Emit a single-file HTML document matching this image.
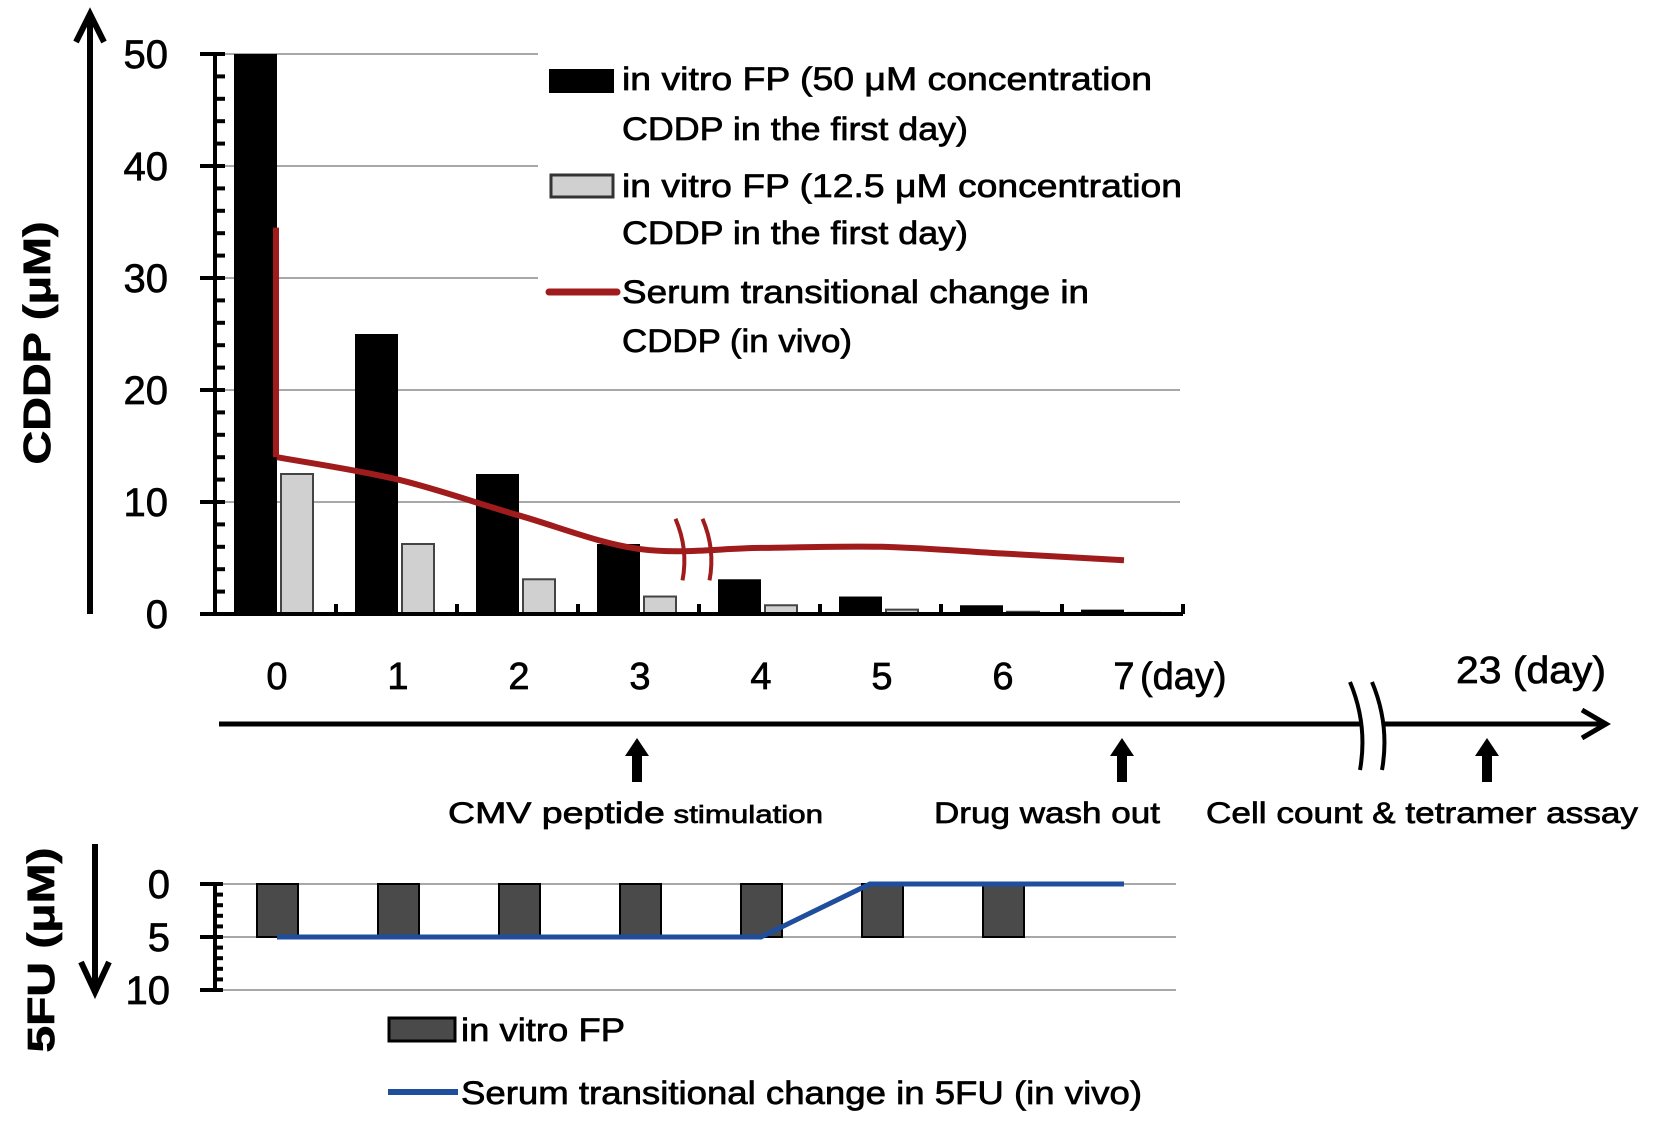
<!DOCTYPE html>
<html><head><meta charset="utf-8"><style>
html,body{margin:0;padding:0;background:#fff;}
svg{display:block;font-family:"Liberation Sans",sans-serif;}
text{stroke:#000;stroke-width:0.7px;}
</style></head><body>
<svg id="chart" width="1654" height="1129" viewBox="0 0 1654 1129" xmlns="http://www.w3.org/2000/svg">
<g id="topgrp"></g>
<g id="botgrp"></g>
<g id="legend">
  <rect x="538" y="40" width="652" height="318" fill="#fff"/>
  <rect x="549" y="69" width="65" height="24" fill="#000"/>
  <text x="622" y="90" font-size="32" textLength="530" lengthAdjust="spacingAndGlyphs">in vitro FP (50 μM concentration</text>
  <text x="622" y="140" font-size="32" textLength="346" lengthAdjust="spacingAndGlyphs">CDDP in the first day)</text>
  <rect x="551" y="175" width="62" height="22" fill="#d0d0d0" stroke="#333" stroke-width="3"/>
  <text x="622" y="197" font-size="32" textLength="560" lengthAdjust="spacingAndGlyphs">in vitro FP (12.5 μM concentration</text>
  <text x="622" y="244" font-size="32" textLength="346" lengthAdjust="spacingAndGlyphs">CDDP in the first day)</text>
  <line x1="549" y1="292" x2="617" y2="292" stroke="#a01c1c" stroke-width="7" stroke-linecap="round"/>
  <text x="622" y="303" font-size="32" textLength="467" lengthAdjust="spacingAndGlyphs">Serum transitional change in</text>
  <text x="622" y="352" font-size="32" textLength="230" lengthAdjust="spacingAndGlyphs">CDDP (in vivo)</text>
</g>
</svg>
<script>
const days = [0,1,2,3,4,5,6,7];
const black50 = [50,25,12.5,6.25,3.1,1.56,0.78,0.39];
const gray125 = [12.5,6.25,3.1,1.56,0.78,0.39,0.2,0.1];
const redDays = [0,1,2,3,4,5,6,7];
const redVals = [14,12,8.8,5.8,5.9,6.0,5.4,4.8];
const redPeak = 34.5;
const yTicks = [0,10,20,30,40,50];
const fuDays = [0,1,2,3,4,5,6];
const fuBars = [5,5,5,5,5,5,5];
const blueDays = [0,1,2,3,4,4.9,6,7];
const blueVals = [5,5,5,5,5,0,0,0];
const fuTicks = [0,5,10];

const NS="http://www.w3.org/2000/svg";
const X0=215, CAT=121;
const xc = d => X0 + CAT*d + 62;
const y = v => 614 - v*11.2;
const yb = v => 884 + v*10.6;
function mk(tag, attrs, parent){const e=document.createElementNS(NS,tag);for(const k in attrs)e.setAttribute(k,attrs[k]);parent.appendChild(e);return e;}
const topG=document.getElementById('topgrp'), botG=document.getElementById('botgrp');

yTicks.forEach(t=>{
  if(t===0) return;
  const g=mk('line',{x1:X0,x2:1180,y1:y(t),y2:y(t),stroke:'#a8a8a8','stroke-width':2},topG);
  
  
});
days.forEach((d,i)=>{
  const b=mk('rect',{x:X0+CAT*d+19,y:y(black50[i]),width:43,height:614-y(black50[i]),fill:'#000'},topG);
  
  
  const g=mk('rect',{x:X0+CAT*d+66,y:y(gray125[i]),width:32,height:614-y(gray125[i]),fill:'#d0d0d0',stroke:'#444','stroke-width':2},topG);
  
  
  const tk=mk('line',{x1:X0+CAT*(d+1),x2:X0+CAT*(d+1),y1:614,y2:604,stroke:'#000','stroke-width':4},topG);
  
  
});
const ya=mk('line',{x1:X0,x2:X0,y1:y(50),y2:614,stroke:'#000','stroke-width':4},topG);


const xa=mk('line',{x1:200,x2:1183,y1:614,y2:614,stroke:'#000','stroke-width':4},topG);


for(let v=0; v<=50; v+=2){
  const t=mk('line',{x1:v%10===0?200:X0,x2:X0+10,y1:y(v),y2:y(v),stroke:'#000','stroke-width':4},topG);
  
  
}
yTicks.forEach(t=>{
  const l=mk('text',{x:168,y:y(t)+14,'font-size':40,'text-anchor':'end'},topG);
  l.textContent=t;
  
  
});
(function(){
  const pts=redDays.map((d,i)=>[xc(d),y(redVals[i])]);
  let p=`M${xc(0)-1},${y(redPeak)} L${xc(0)-1},${y(redVals[0])} `;
  p+=`M${pts[0][0]},${pts[0][1]} `;
  for(let i=0;i<pts.length-1;i++){
    const p0=pts[Math.max(0,i-1)],p1=pts[i],p2=pts[i+1],p3=pts[Math.min(pts.length-1,i+2)];
    const c1=[p1[0]+(p2[0]-p0[0])/6,p1[1]+(p2[1]-p0[1])/6];
    const c2=[p2[0]-(p3[0]-p1[0])/6,p2[1]-(p3[1]-p1[1])/6];
    p+=`C${c1[0]},${c1[1]} ${c2[0]},${c2[1]} ${p2[0]},${p2[1]} `;
  }
  const r=mk('path',{d:p,fill:'none',stroke:'#a01c1c','stroke-width':6,'stroke-linejoin':'round'},topG);
  
  
  const bx=(xc(3)+xc(4))/2-20;
  const br=mk('path',{d:`M${bx-5},${y(8.5)} Q${bx+8},${y(5.8)} ${bx+2},${y(3)} M${bx+22},${y(8.5)} Q${bx+35},${y(5.8)} ${bx+29},${y(3)}`,fill:'none',stroke:'#a01c1c','stroke-width':4},topG);
  
  
})();
const ua=mk('path',{d:'M90,614 L90,20 M76,42 L90,14 L104,42',fill:'none',stroke:'#000','stroke-width':6},topG);


const ct=mk('text',{x:0,y:0,'font-size':38,'font-weight':'bold','text-anchor':'middle',transform:'translate(50,343) rotate(-90)',textLength:243,lengthAdjust:'spacingAndGlyphs'},topG);
ct.textContent='CDDP (μM)';



days.forEach(d=>{
  const t=mk('text',{x:xc(d),y:689,'font-size':38,'text-anchor':'middle'},topG);
  t.textContent=d;
  
  
});
const dl=mk('text',{x:xc(7)+16,y:689,'font-size':38},topG); dl.textContent='(day)';


const d23=mk('text',{x:1456,y:683,'font-size':38,textLength:150,lengthAdjust:'spacingAndGlyphs'},topG); d23.textContent='23 (day)';


const tl=mk('path',{d:'M219,724 L1604,724 M1582,710 L1606,724 L1582,738',fill:'none',stroke:'#000','stroke-width':5},topG);


mk('rect',{x:1360,y:716,width:22,height:16,fill:'#fff'},topG);
const tb=mk('path',{d:'M1350,682 Q1368,725 1360,770 M1372,682 Q1390,725 1382,770',fill:'none',stroke:'#000','stroke-width':4},topG);


[[637,'arrow-cmv'],[1122,'arrow-wash'],[1487,'arrow-cell-count']].forEach(a=>{
  const e=mk('path',{d:`M${a[0]-5},782 L${a[0]+5},782 L${a[0]+5},756 L${a[0]+12},756 L${a[0]},738 L${a[0]-12},756 L${a[0]-5},756 Z`,fill:'#000'},topG);
  
  
});
const an1=mk('text',{x:448,y:823,'font-size':30,textLength:375,lengthAdjust:'spacingAndGlyphs'},topG);
an1.innerHTML='<tspan>CMV peptide</tspan><tspan font-size="25"> stimulation</tspan>';


const an2=mk('text',{x:934,y:823,'font-size':30,textLength:226,lengthAdjust:'spacingAndGlyphs'},topG); an2.textContent='Drug wash out';


const an3=mk('text',{x:1206,y:823,'font-size':30,textLength:432,lengthAdjust:'spacingAndGlyphs'},topG); an3.textContent='Cell count & tetramer assay';



fuTicks.forEach(t=>{
  const g=mk('line',{x1:X0,x2:1176,y1:yb(t),y2:yb(t),stroke:'#a8a8a8','stroke-width':2},botG);
  
  
  const l=mk('text',{x:170,y:yb(t)+14,'font-size':40,'text-anchor':'end'},botG); l.textContent=t;
  
  
});
fuDays.forEach((d,i)=>{
  const b=mk('rect',{x:X0+CAT*d+42,y:yb(0),width:41,height:yb(fuBars[i])-yb(0),fill:'#4a4a4a',stroke:'#000','stroke-width':2},botG);
  
  
});
const fya=mk('line',{x1:X0,x2:X0,y1:yb(0),y2:yb(10),stroke:'#000','stroke-width':4},botG);


for(let v=0; v<=10; v+=1){
  const t=mk('line',{x1:v%5===0?200:X0,x2:X0+8,y1:yb(v),y2:yb(v),stroke:'#000','stroke-width':4},botG);
  
  
}
const bl=mk('polyline',{points:blueDays.map((d,i)=>xc(d)+','+yb(blueVals[i])).join(' '),fill:'none',stroke:'#1f4e9c','stroke-width':5},botG);


const da=mk('path',{d:'M95,844 L95,986 M81,962 L95,992 L109,962',fill:'none',stroke:'#000','stroke-width':6},botG);


const ft=mk('text',{x:0,y:0,'font-size':38,'font-weight':'bold','text-anchor':'middle',transform:'translate(54,950) rotate(-90)',textLength:205,lengthAdjust:'spacingAndGlyphs'},botG);
ft.textContent='5FU (μM)';


const s1=mk('rect',{x:389,y:1018,width:66,height:23,fill:'#4a4a4a',stroke:'#000','stroke-width':3},botG);


const t1=mk('text',{x:461,y:1041,'font-size':32,textLength:164,lengthAdjust:'spacingAndGlyphs'},botG); t1.textContent='in vitro FP';


const s2=mk('line',{x1:388,x2:458,y1:1092,y2:1092,stroke:'#1f4e9c','stroke-width':6},botG);


const t2=mk('text',{x:461,y:1104,'font-size':32,textLength:681,lengthAdjust:'spacingAndGlyphs'},botG); t2.textContent='Serum transitional change in 5FU (in vivo)';


</script>
</body></html>
